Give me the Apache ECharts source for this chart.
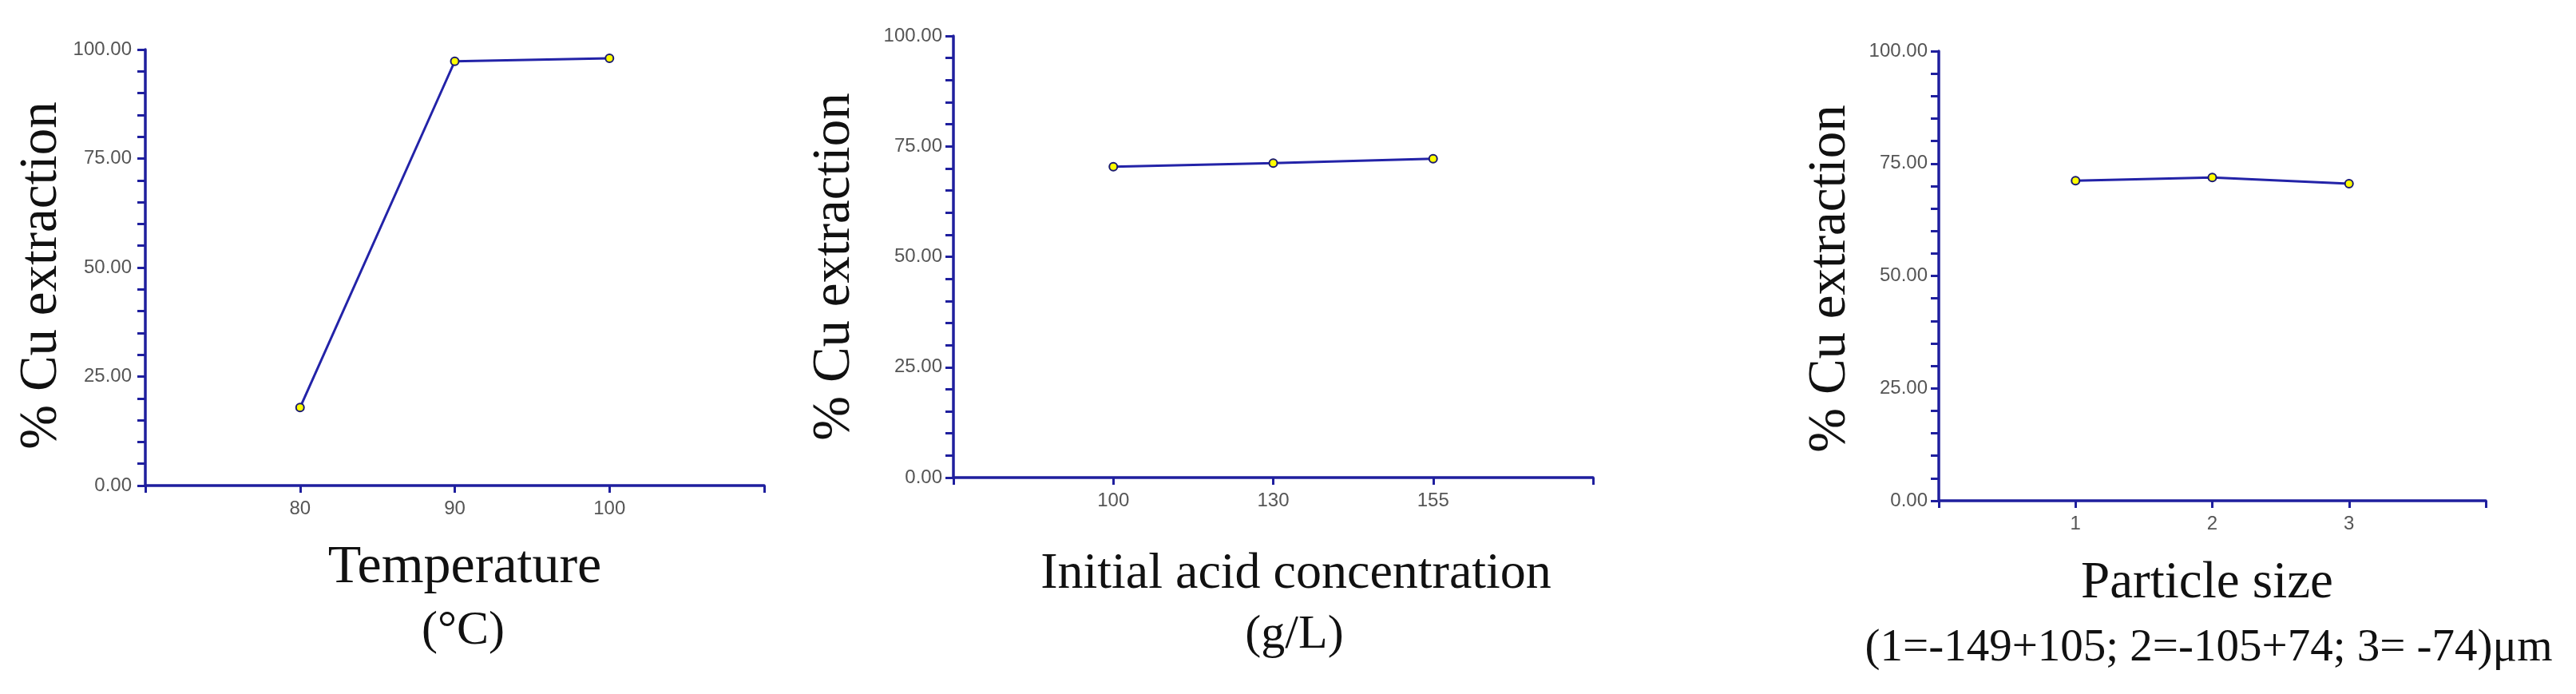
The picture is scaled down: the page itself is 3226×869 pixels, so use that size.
<!DOCTYPE html>
<html>
<head>
<meta charset="utf-8">
<script src="https://cdn.jsdelivr.net/npm/echarts@6/dist/echarts.min.js"></script>
<style>
html,body{margin:0;padding:0;background:#fff;}
#c{width:3226px;height:869px;}
</style>
</head>
<body>
<div id="c"></div>
<script>
// ---- data ----
const tempCats = ['80', '90', '100'];
const tempVals = [17.9, 97.3, 98.0];
const acidCats = ['100', '130', '155'];
const acidVals = [70.4, 71.2, 72.2];
const sizeCats = ['1', '2', '3'];
const sizeVals = [71.2, 71.9, 70.5];
const yTitle = '% Cu extraction';
const xTitles = ['Temperature', 'Initial acid concentration', 'Particle size'];
const xSubtitles = ['(°C)', '(g/L)', '(1=-149+105; 2=-105+74; 3= -74)μm'];

// ---- layout / style ----
const AX = '#1f1f9e';
const grids = [
  {left: 182, top: 62, width: 775, height: 546},
  {left: 1194, top: 45, width: 801, height: 553},
  {left: 2428, top: 64, width: 685, height: 563}
];
const catsList = [tempCats, acidCats, sizeCats];
const valsList = [tempVals, acidVals, sizeVals];

const xAxes = catsList.map((cats, i) => ({
  type: 'category', gridIndex: i, boundaryGap: false,
  data: [''].concat(cats, [' ']),
  axisLine: {lineStyle: {color: AX, width: 3.5}},
  axisTick: {show: true, interval: 0, length: 9, lineStyle: {color: AX, width: 3}},
  axisLabel: {interval: 0, color: '#555', fontFamily: 'Liberation Sans', fontSize: 24, margin: 17},
  splitLine: {show: false}
}));
const yAxes = grids.map((g, i) => ({
  type: 'value', gridIndex: i, min: 0, max: 100, interval: 5,
  axisLine: {show: true, lineStyle: {color: AX, width: 3.5}},
  axisTick: {show: true, length: 10, lineStyle: {color: AX, width: 3}},
  axisLabel: {
    color: '#555', fontFamily: 'Liberation Sans', fontSize: 24, margin: i === 0 ? 17 : 14,
    formatter: v => (v % 25 === 0 ? v.toFixed(2) : '')
  },
  splitLine: {show: false}
}));
const series = valsList.map((vals, i) => ({
  type: 'line', xAxisIndex: i, yAxisIndex: i,
  data: vals.map((v, j) => [catsList[i][j], v]),
  symbol: 'circle', symbolSize: 10,
  lineStyle: {color: '#2323a8', width: 3},
  itemStyle: {color: '#ffff00', borderColor: '#1a1a70', borderWidth: 2},
  animation: false
}));

const serif = 'Liberation Serif';
const yTitlePos = [[52, 345], [1045, 334], [2292, 349]];
const xTitlePos = [[582, 711], [1623, 719], [2764, 731]];
const xTitleSize = [68, 64, 65];
const xSubPos = [[580, 790], [1621, 795], [2766, 812]];
const xSubSize = [60, 60, 57];
const graphics = [];
for (let i = 0; i < 3; i++) {
  graphics.push({
    type: 'text', x: yTitlePos[i][0], y: yTitlePos[i][1], rotation: Math.PI / 2,
    style: {text: yTitle, font: '67px "' + serif + '"', fill: '#111', align: 'center', verticalAlign: 'middle'}
  });
  graphics.push({
    type: 'text', x: xTitlePos[i][0], y: xTitlePos[i][1],
    style: {text: xTitles[i], font: xTitleSize[i] + 'px "' + serif + '"', fill: '#111', align: 'center', verticalAlign: 'middle'}
  });
  graphics.push({
    type: 'text', x: xSubPos[i][0], y: xSubPos[i][1],
    style: {text: xSubtitles[i], font: xSubSize[i] + 'px "' + serif + '"', fill: '#111', align: 'center', verticalAlign: 'middle'}
  });
}

const chart = echarts.init(document.getElementById('c'));
chart.setOption({
  backgroundColor: '#fff',
  animation: false,
  grid: grids,
  xAxis: xAxes,
  yAxis: yAxes,
  series: series,
  graphic: graphics
});
</script>
</body>
</html>
